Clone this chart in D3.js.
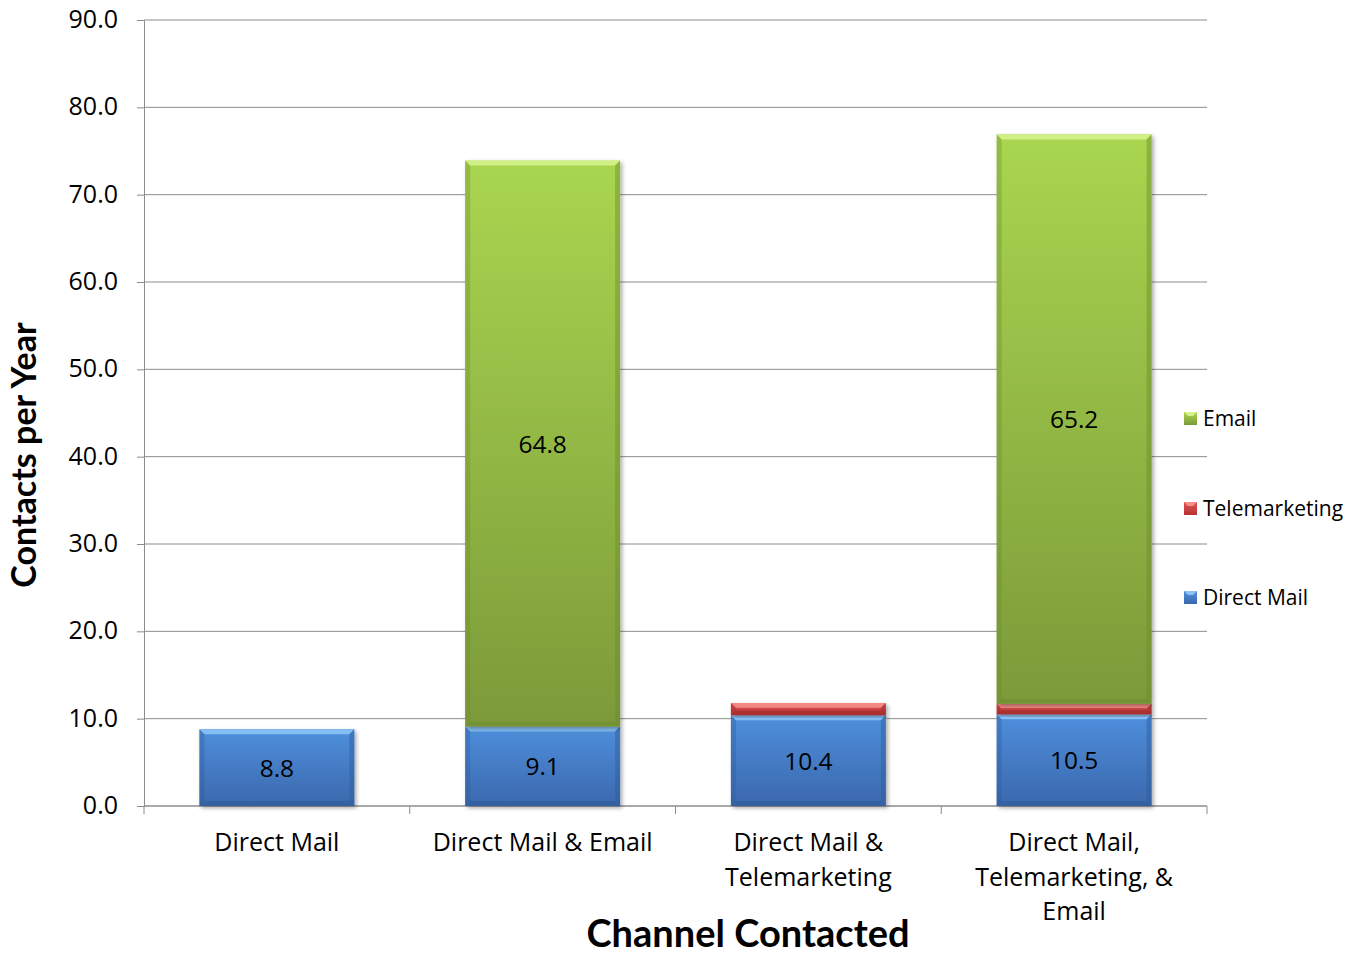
<!DOCTYPE html>
<html>
<head>
<meta charset="utf-8">
<script src="https://cdn.jsdelivr.net/npm/d3@7"></script>
<style>
  html, body { margin: 0; padding: 0; background: #fff; }
  svg text { font-family: "Open Sans", sans-serif; fill: #000; }
  svg text.title { font-family: Lato, "Open Sans", sans-serif; font-weight: bold; }
</style>
</head>
<body>
<svg id="chart" width="1350" height="954"></svg>
<script>
// Contacts per year by channel combination
const categories = [
  ["Direct Mail"],
  ["Direct Mail & Email"],
  ["Direct Mail &", "Telemarketing"],
  ["Direct Mail,", "Telemarketing, &", "Email"]
];
const directMail   = [8.8, 9.1, 10.4, 10.5];
const telemarketing = [0, 0, 1.4, 1.2];
const email        = [0, 64.8, 0, 65.2];
const seriesNames  = ["Direct Mail", "Telemarketing", "Email"];
const yTicks       = [0, 10, 20, 30, 40, 50, 60, 70, 80, 90];
const labelled     = { "Direct Mail": true, "Telemarketing": false, "Email": true };

const svg = d3.select("#chart");
const plotLeft = 144, plotRight = 1207, plotTop = 20, plotBottom = 806;

const x = d3.scaleBand().domain(d3.range(categories.length)).range([plotLeft, plotRight]).paddingInner(0.417).paddingOuter(0.2085);
const y = d3.scaleLinear().domain([0, 90]).range([plotBottom, plotTop]);

const palette = {
  "Direct Mail":   { top: "#4f8fdc", bot: "#3a68ad", hi: "#8cc3f5", side: "#2f5a98" },
  "Telemarketing": { top: "#e05555", bot: "#b83232", hi: "#f58f8a", side: "#9a2828" },
  "Email":         { top: "#a9d650", bot: "#7c9a39", hi: "#d4f28a", side: "#6d8a2f" }
};

const defs = svg.append("defs");
Object.entries(palette).forEach(([k, c], i) => {
  const g = defs.append("linearGradient").attr("id", "grad" + i).attr("x1", 0).attr("y1", 0).attr("x2", 0).attr("y2", 1);
  g.append("stop").attr("offset", "0%").attr("stop-color", c.top);
  g.append("stop").attr("offset", "100%").attr("stop-color", c.bot);
});
const shadow = defs.append("filter").attr("id", "shadow").attr("x", "-10%").attr("y", "-10%").attr("width", "130%").attr("height", "130%");
shadow.append("feGaussianBlur").attr("in", "SourceAlpha").attr("stdDeviation", 2);
shadow.append("feOffset").attr("dx", 2).attr("dy", 2).attr("result", "b");
shadow.append("feComponentTransfer").append("feFuncA").attr("type", "linear").attr("slope", 0.35);
const merge = shadow.append("feMerge");
merge.append("feMergeNode");
merge.append("feMergeNode").attr("in", "SourceGraphic");

// gridlines
svg.append("g").selectAll("line").data(yTicks).join("line")
  .attr("x1", plotLeft).attr("x2", plotRight)
  .attr("y1", d => y(d)).attr("y2", d => y(d))
  .attr("stroke", "#8c8c8c").attr("stroke-width", 1);

// y axis
const yAxis = svg.append("g").attr("transform", `translate(${plotLeft},0)`)
  .call(d3.axisLeft(y).tickValues(yTicks).tickFormat(d3.format(".1f")).tickSize(7).tickPadding(19));
yAxis.select(".domain").attr("stroke", "#8c8c8c");
yAxis.selectAll(".tick line").attr("stroke", "#8c8c8c");
yAxis.selectAll(".tick text").attr("font-size", 25).attr("font-family", "'Open Sans', sans-serif").attr("fill", "#000").attr("dy", "0.3em");

// x axis with boundary ticks
const xAxisG = svg.append("g");
xAxisG.append("line").attr("x1", plotLeft).attr("x2", plotRight).attr("y1", plotBottom).attr("y2", plotBottom).attr("stroke", "#8c8c8c");
const bounds = d3.range(categories.length + 1).map(i => plotLeft + i * x.step());
xAxisG.selectAll("line.b").data(bounds).join("line").attr("class", "b")
  .attr("x1", d => d).attr("x2", d => d).attr("y1", plotBottom).attr("y2", plotBottom + 8).attr("stroke", "#8c8c8c");

// stacked bars
const stackData = categories.map((c, i) => ({ i, "Direct Mail": directMail[i], "Telemarketing": telemarketing[i], "Email": email[i] }));
const stacked = d3.stack().keys(seriesNames)(stackData);

stacked.forEach((layer, li) => {
  const c = palette[layer.key];
  const g = svg.append("g");
  layer.forEach((d, i) => {
    const v = d[1] - d[0];
    if (v <= 0) return;
    const x0 = x(i), w = x.bandwidth();
    const y0 = y(d[1]), h = y(d[0]) - y(d[1]);
    const seg = g.append("g");
    seg.append("rect").attr("x", x0).attr("y", y0).attr("width", w).attr("height", h)
      .attr("fill", `url(#grad${li})`).attr("filter", "url(#shadow)");
    const b = Math.min(5, h / 2.5);
    // bevel: light top edge, darker sides and bottom
    seg.append("path").attr("d", `M${x0},${y0}L${x0 + w},${y0}L${x0 + w - b},${y0 + b}L${x0 + b},${y0 + b}Z`).attr("fill", c.hi).attr("opacity", 0.9);
    seg.append("path").attr("d", `M${x0},${y0}L${x0 + b},${y0 + b}L${x0 + b},${y0 + h - b}L${x0},${y0 + h}Z`).attr("fill", c.side).attr("opacity", 0.35);
    seg.append("path").attr("d", `M${x0 + w},${y0}L${x0 + w - b},${y0 + b}L${x0 + w - b},${y0 + h - b}L${x0 + w},${y0 + h}Z`).attr("fill", c.side).attr("opacity", 0.45);
    seg.append("path").attr("d", `M${x0},${y0 + h}L${x0 + b},${y0 + h - b}L${x0 + w - b},${y0 + h - b}L${x0 + w},${y0 + h}Z`).attr("fill", c.side).attr("opacity", 0.5);
    if (labelled[layer.key]) {
      seg.append("text").attr("x", x0 + w / 2).attr("y", (y(d[0]) + y(d[1])) / 2 + 9)
        .attr("text-anchor", "middle").attr("font-size", 24.5).text(v.toFixed(1));
    }
  });
});

// category labels
categories.forEach((lines, i) => {
  const t = svg.append("text").attr("x", x(i) + x.bandwidth() / 2).attr("y", 851).attr("text-anchor", "middle").attr("font-size", 25);
  lines.forEach((ln, j) => t.append("tspan").attr("x", x(i) + x.bandwidth() / 2).attr("dy", j === 0 ? 0 : 34.5).text(ln));
});

// axis titles
svg.append("text").attr("class", "title").attr("x", 748).attr("y", 947).attr("text-anchor", "middle")
  .attr("font-size", 38).text("Channel Contacted");
svg.append("text").attr("class", "title").attr("transform", "translate(36,455) rotate(-90)").attr("text-anchor", "middle")
  .attr("font-size", 34).text("Contacts per Year");

// legend
const legendItems = ["Email", "Telemarketing", "Direct Mail"];
const legendY = [418, 508, 597];
legendItems.forEach((k, i) => {
  const c = palette[k];
  const li = seriesNames.indexOf(k);
  const g = svg.append("g").attr("transform", `translate(1184,${legendY[i] - 6})`);
  g.append("rect").attr("width", 13).attr("height", 13).attr("fill", `url(#grad${li})`);
  g.append("path").attr("d", "M0,0L13,0L9,4L4,4Z").attr("fill", c.hi);
  svg.append("text").attr("x", 1203).attr("y", legendY[i] + 8).attr("font-size", 21).text(k);
});
</script>
</body>
</html>
